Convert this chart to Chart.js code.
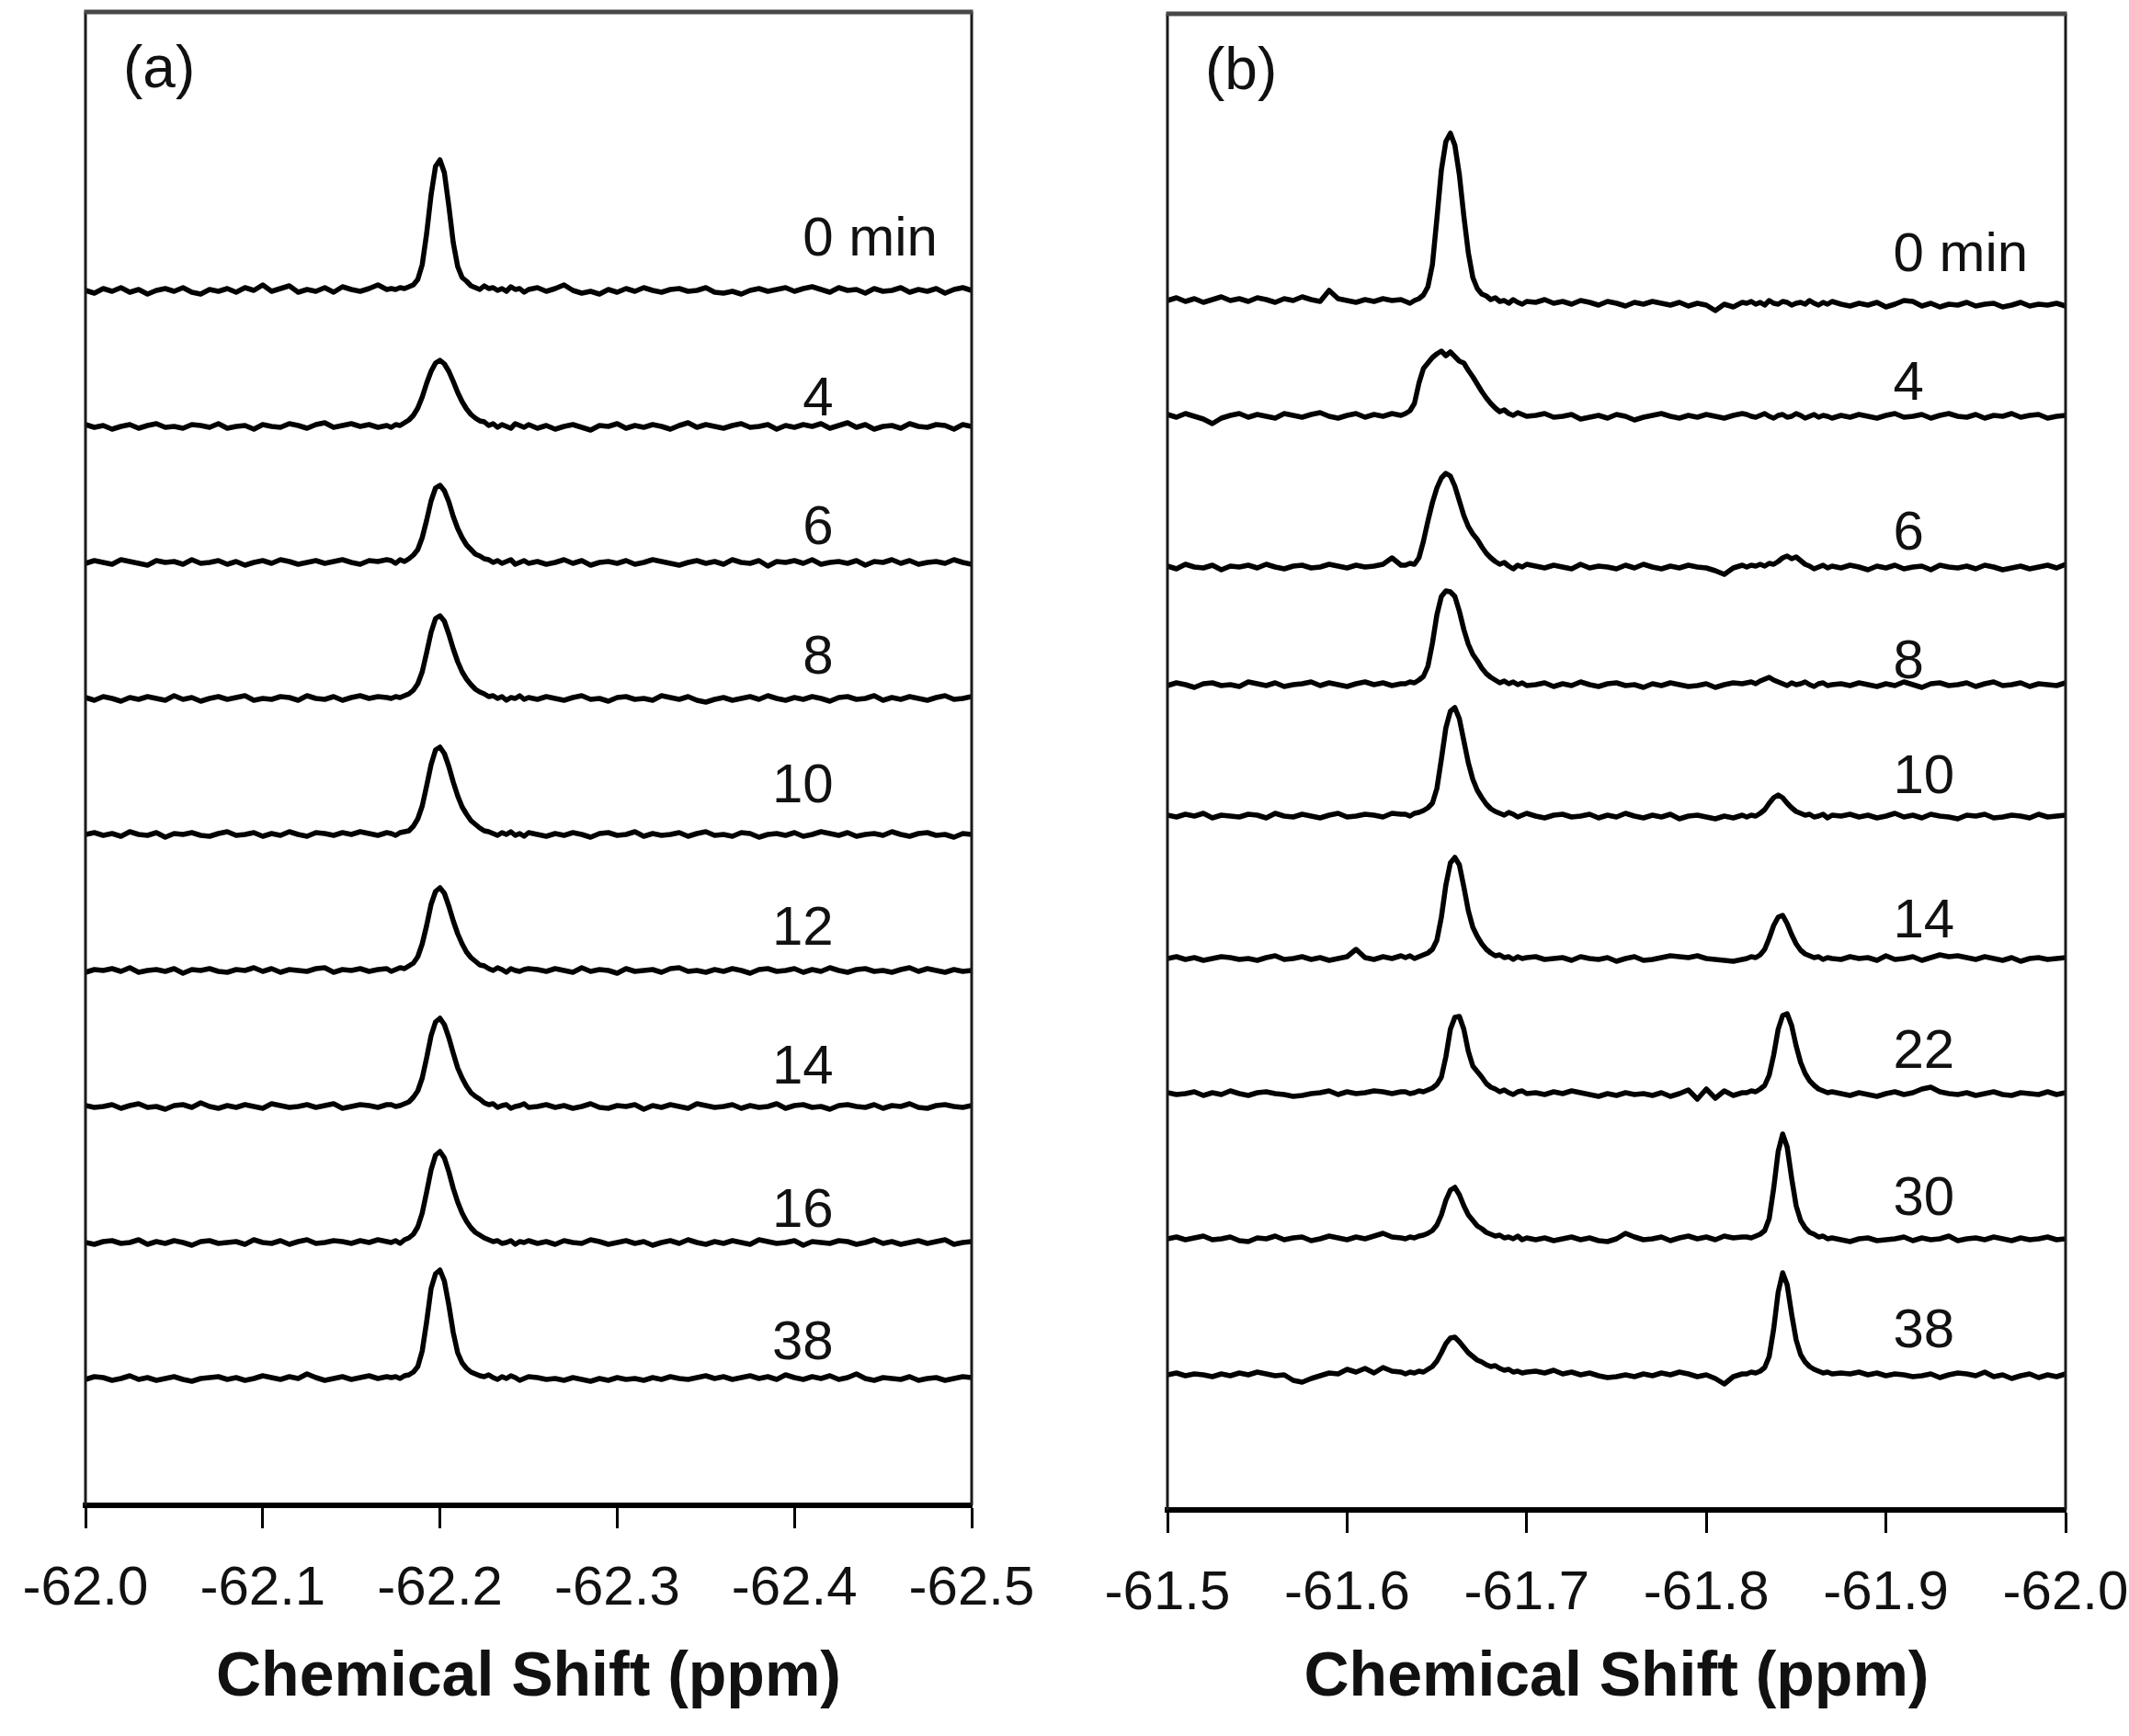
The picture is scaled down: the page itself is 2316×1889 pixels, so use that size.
<!DOCTYPE html>
<html>
<head>
<meta charset="utf-8">
<script src="https://cdn.jsdelivr.net/npm/chart.js@4.4.1/dist/chart.umd.min.js"></script>
<style>
  html, body { margin: 0; padding: 0; background: #fff; }
  body { width: 2316px; height: 1889px; position: relative; overflow: hidden; }
  .panel { position: absolute; top: 0; height: 1889px; }
  #wa { left: 0; width: 1160px; }
  #wb { left: 1160px; width: 1156px; }
</style>
</head>
<body>
<div class="panel" id="wa"><canvas id="ca"></canvas></div>
<div class="panel" id="wb"><canvas id="cb"></canvas></div>
<script>
// ---------------- Panel (a) ----------------
const ticksA = [-62.0, -62.1, -62.2, -62.3, -62.4, -62.5];
const labelsA = ['0', '4', '6', '8', '10', '12', '14', '16', '38'];
const stackA = [1322, 1174, 1026, 878, 730, 582, 434, 286, 138];      // baseline level of each trace
const labelYA = [1360, 1186, 1046, 905, 765, 610, 459, 303, 159];     // label baseline value
const labelXA = -62.422;

// sampling axis (ppm): 0.005 steps, 0.0025 steps around the peak
const gridA = [];
for (let i = 0; i <= 34; i++) gridA.push(-62 - i * 0.005);
for (let i = 1; i <= 32; i++) gridA.push(-62.17 - i * 0.0025);
for (let i = 1; i <= 50; i++) gridA.push(-62.25 - i * 0.005);

const a0 = [0,-3,2,-1,3,-2,1,-4,0,2,-1,3,-2,-4,1,-1,2,-2,3,0,6,-1,2,5,-2,1,-1,3,-2,4,1,-1,2,6,1,
  2,1,3,2,4,6,12,28,62,104,135,142,128,92,52,26,14,10,5,3,1,5,2,3,0,2,-1,4,1,2,-2,1,
  3,-1,2,6,0,-3,-1,-4,1,-2,2,-1,3,0,-2,1,2,-1,0,3,-2,-3,-1,-4,0,2,-1,1,3,-1,2,4,1,-2,3,0,1,-3,2,-1,0,3,-2,1,-1,2,-3,1,3,0];
const a4 = [2,-1,1,-3,0,2,-2,1,3,-1,0,-2,2,1,-1,3,-2,0,1,-3,2,0,-1,3,1,-2,2,4,-1,1,3,0,2,-1,1,
  -1,2,1,4,7,12,20,32,47,60,69,72,68,60,49,37,27,19,13,9,6,5,1,3,-1,2,0,-2,3,1,-1,2,
  -2,1,-3,0,2,-1,-4,1,0,3,-2,1,-1,2,0,-3,1,4,-1,2,0,-2,1,3,-1,0,2,-3,1,-1,2,0,3,-2,1,4,-1,2,-3,0,1,-2,3,0,-1,2,1,-3,2,0];
const a6 = [-1,2,0,-2,3,1,-1,-3,2,0,1,-2,3,-1,0,2,-2,1,-3,0,2,-1,3,1,-2,0,2,-1,1,3,0,-2,2,1,3,
  2,-1,3,1,4,8,14,27,46,67,81,84,78,66,50,37,27,19,14,9,7,4,3,0,2,-1,1,3,-2,0,2,-1,
  1,-2,0,3,-1,2,-3,0,1,-1,2,-2,0,3,1,-1,-3,0,2,-1,1,-2,3,0,-1,2,-4,1,0,2,-1,3,-2,0,1,-1,2,-3,1,0,3,-1,2,-2,0,1,-1,3,0,-2];
const a8 = [1,-2,2,0,-3,1,-1,2,0,-2,3,-1,1,-3,0,2,-1,1,3,-2,0,-1,2,1,-2,3,0,-1,2,-2,1,3,0,2,1,
  0,2,1,3,5,9,16,29,50,72,87,90,84,70,54,40,29,21,15,10,7,5,2,3,0,2,-2,1,0,3,-1,1,
  -1,2,0,-2,1,3,-1,0,-3,1,2,-1,0,-2,3,1,-1,2,-2,-4,-1,1,-2,0,2,-1,3,0,-2,1,-1,2,0,-3,1,2,-1,0,3,-2,1,-1,2,0,-2,1,3,-1,0,2];
const a10 = [0,2,-1,1,-2,3,0,-1,2,-3,1,0,2,-1,-2,1,3,-1,0,2,-2,1,-1,3,0,-2,2,1,-1,2,0,3,1,-1,2,
  1,-1,2,3,4,9,17,31,53,76,92,95,88,74,57,42,30,22,15,11,7,4,3,1,-1,2,0,3,-1,1,-2,2,
  0,-2,1,-1,2,0,-3,1,2,-1,0,3,-2,1,-1,0,2,-2,1,3,-1,0,-2,2,1,-3,0,1,-1,2,-2,0,3,1,-1,2,-2,0,1,-1,3,0,-2,1,2,-1,0,-3,1,0];
const a12 = [-2,1,0,2,-1,3,-2,0,1,-1,2,-3,1,0,2,-1,-2,1,0,3,-1,2,-2,1,0,-1,2,3,-2,1,0,2,-1,1,2,
  -1,1,3,2,5,8,15,29,49,72,86,90,84,70,54,40,29,20,14,10,6,5,2,0,3,1,-2,2,0,-1,1,2,
  1,-1,2,0,-2,3,-1,1,0,-3,2,-1,0,1,-2,2,3,-1,0,-2,1,-1,2,0,-3,1,2,-1,0,2,-2,1,-1,3,0,-2,1,2,-1,0,-2,1,3,-1,2,0,-2,1,-1,0];
const a14 = [1,-1,0,2,-2,1,3,-1,0,-3,1,2,-1,4,0,-2,1,-1,2,0,-2,3,1,-1,0,2,-1,1,3,-2,0,2,1,-1,2,
  2,0,1,3,5,10,17,31,53,77,92,96,89,75,58,42,31,22,15,11,8,4,2,3,-1,1,2,-2,0,1,3,-1,
  0,2,-1,1,-2,0,3,-1,-2,1,0,2,-3,1,-1,2,0,-2,3,1,-1,0,2,-2,1,-1,0,3,-2,1,2,-1,0,-3,1,2,0,-1,2,-2,1,0,3,-1,-2,1,2,0,-1,1];
const a16 = [0,-2,1,2,-1,0,3,-2,1,-1,2,0,-3,1,2,-1,0,1,-2,3,0,-1,2,-2,1,3,-1,0,2,1,-1,2,0,3,1,
  0,2,-1,3,5,9,17,32,55,79,95,99,92,77,59,44,32,23,16,11,8,5,3,1,2,-1,0,2,-2,1,0,2,
  -1,1,-2,2,0,-1,3,1,-2,0,2,-1,1,-3,0,2,-1,3,0,-2,1,-1,2,0,-2,3,1,-1,0,2,-3,1,0,-1,2,1,-2,0,3,-1,1,-2,0,2,-1,1,3,-2,0,1];
const a38 = [-1,2,1,-2,0,3,-1,1,-2,0,2,-1,-3,0,1,2,-1,1,-2,0,3,1,-1,2,0,5,1,-2,0,2,-1,1,3,0,2,
  1,2,0,3,4,7,13,30,62,98,114,118,106,80,50,28,17,11,7,5,3,2,4,1,-1,2,0,3,1,-2,0,2,
  1,-1,0,-2,1,-1,-3,0,-2,1,-1,0,-2,1,-1,2,0,-1,1,3,0,2,-1,1,3,0,2,-1,4,1,-1,2,0,3,-1,1,5,0,-2,1,0,-1,2,-2,0,1,-2,0,2,1];
const tracesA = [a0, a4, a6, a8, a10, a12, a14, a16, a38];

// ---------------- Panel (b) ----------------
const ticksB = [-61.5, -61.6, -61.7, -61.8, -61.9, -62.0];
const labelsB = ['0', '4', '6', '8', '10', '14', '22', '30', '38'];
const stackB = [1313, 1190, 1026, 898, 755, 600, 453, 295, 147];
const labelYB = [1348, 1208, 1045, 905, 780, 623, 481, 321, 177];
const labelXB = -61.904;

const gridB = [];
for (let i = 0; i <= 26; i++) gridB.push(-61.5 - i * 0.005);
for (let i = 1; i <= 28; i++) gridB.push(-61.63 - i * 0.0025);
for (let i = 1; i <= 24; i++) gridB.push(-61.70 - i * 0.005);
for (let i = 1; i <= 20; i++) gridB.push(-61.82 - i * 0.0025);
for (let i = 1; i <= 26; i++) gridB.push(-61.87 - i * 0.005);

const b0 = [3,6,2,5,1,4,7,3,5,2,6,4,1,5,3,7,4,2,14,5,3,1,4,2,5,3,4,
  2,0,3,5,9,18,42,92,145,176,185,172,140,95,55,28,16,10,8,4,6,2,3,0,4,1,-1,2,
  1,4,0,2,-1,3,1,-2,2,0,-3,1,-1,2,0,-2,1,-3,0,-2,-8,-1,-4,1,
  0,2,-1,1,-2,3,0,-1,2,1,-2,0,1,-1,3,0,-2,1,-1,2,
  -1,-3,0,-2,1,-4,-1,3,2,-3,0,-4,-1,-2,1,-3,-1,0,-4,-2,1,-3,-1,-2,0,-3];
const b4 = [2,-1,3,0,-3,-8,-2,1,3,-1,2,0,-2,3,1,-1,2,4,0,-2,1,3,-1,2,0,3,1,
  3,6,14,36,52,58,64,68,71,66,70,65,60,58,50,43,35,27,20,14,9,5,7,3,1,4,2,0,
  1,3,-1,0,2,-3,-1,1,-2,2,0,-4,-1,1,3,0,-2,1,-1,2,0,-2,1,3,
  2,0,-1,1,3,0,-2,1,2,-1,0,3,1,-2,0,2,-1,1,0,-2,
  1,-1,2,0,-2,1,3,-1,0,2,-2,1,3,0,-1,2,-2,1,0,3,-1,1,2,-2,0,1];
const b6 = [1,-2,3,0,-1,2,-3,1,0,2,-1,3,0,-2,1,2,-1,0,3,1,-1,2,0,1,3,10,2,
  2,4,3,10,28,50,70,86,97,102,99,88,72,56,44,36,30,22,15,10,6,3,5,1,-2,2,0,3,
  1,-1,2,0,-2,3,-1,1,0,-2,2,-1,3,0,-2,1,-1,2,0,-1,-4,-8,-1,2,
  0,2,1,3,1,4,3,6,10,12,9,11,7,3,1,-2,0,2,-1,1,
  -1,2,0,-3,1,-1,2,-2,0,1,-3,2,0,-1,1,-2,2,0,-3,-1,1,-2,0,2,-1,3];
const b8 = [-1,2,0,-3,1,2,-1,0,-2,3,1,-1,2,-2,0,1,3,-1,2,0,-2,1,3,0,2,-1,1,
  1,3,2,5,9,20,45,76,96,102,101,96,80,60,44,33,26,18,12,8,5,2,4,1,3,0,2,-1,
  0,2,-2,1,-1,3,0,-2,1,2,-1,0,-3,1,-1,2,0,-2,-1,1,-3,0,2,1,
  2,3,1,4,6,8,5,3,1,-1,2,0,1,3,0,-2,1,2,-1,0,
  1,-1,2,0,-2,1,-1,3,0,-3,1,2,-1,0,2,-2,1,3,-1,0,2,-2,1,0,-1,2];
const b10 = [1,-1,2,0,3,-2,1,0,-1,2,1,-2,3,0,-1,2,0,-2,1,3,-1,0,2,1,-1,3,2,
  2,0,3,4,6,9,14,30,62,96,114,118,106,82,58,40,28,20,13,8,5,3,1,4,2,-1,1,3,
  0,-2,1,2,-1,0,2,-2,1,-1,3,0,-2,1,-1,2,-3,0,1,-1,-3,0,-2,1,
  -1,1,0,3,7,14,20,23,20,14,9,5,3,1,2,-1,0,2,-2,1,
  0,2,-1,1,-2,0,3,-1,1,-2,2,0,-1,-3,1,0,2,-2,-1,1,0,-2,2,-1,0,1];
const b14 = [0,2,-1,1,-2,0,2,1,-1,0,-2,1,3,-1,0,2,-1,1,-2,0,2,10,1,-1,2,0,3,
  1,3,0,2,4,6,10,20,45,80,104,110,102,78,52,34,24,16,10,6,3,4,1,2,-1,2,0,1,
  2,-1,0,1,-2,2,0,-1,1,-3,0,2,-2,-1,1,3,2,1,3,0,-1,-2,-3,-1,
  0,2,1,4,10,22,36,45,47,38,26,16,9,5,3,1,2,-1,1,0,
  -1,2,0,1,-2,3,-1,0,2,-2,1,4,2,3,1,-1,2,0,-2,1,-3,0,1,-1,0,1];
const b22 = [1,-1,0,2,-2,1,-1,3,0,-2,1,2,0,-1,-3,-2,0,1,3,-1,2,0,1,3,2,0,2,
  2,0,1,3,2,4,6,10,18,40,70,83,84,70,46,30,24,18,11,7,5,2,4,1,-1,2,3,0,
  1,-1,2,0,3,1,-1,-3,0,-2,1,-1,0,-2,1,-3,0,4,-6,5,-5,3,-2,1,
  1,3,2,5,9,20,42,70,85,87,74,52,34,22,14,9,5,3,1,2,
  0,-2,1,-1,-3,0,2,-1,1,5,7,2,0,-1,1,-2,0,2,-1,-2,1,0,-1,2,-1,1];
const b30 = [0,2,-1,1,3,-1,0,2,-2,-3,1,0,3,-1,1,2,-2,0,3,1,-1,2,0,3,6,2,1,
  0,2,1,3,4,6,9,15,26,42,53,56,48,36,26,20,14,11,7,5,3,4,1,2,0,3,-1,1,
  -1,1,-2,0,2,-1,1,-2,-3,0,6,2,-1,0,2,-2,1,3,0,2,-1,3,1,2,
  2,1,3,5,9,22,55,95,114,100,66,36,20,12,7,5,2,3,0,1,
  -1,-3,0,1,-2,-1,0,2,-2,1,-1,0,3,-2,0,1,-1,2,0,-2,1,-1,0,2,-1,0];
const b38 = [0,2,-1,1,0,-2,1,-1,2,0,3,1,-1,0,-6,-8,-4,-1,2,1,6,3,7,2,8,4,3,
  1,3,2,4,3,6,9,15,24,34,40,41,36,30,24,20,16,14,11,9,10,7,5,6,3,4,2,3,
  4,2,5,1,3,0,2,-1,-3,-2,0,-2,1,-1,2,0,3,1,-2,0,-4,-10,-2,1,
  1,3,2,4,8,20,50,90,111,98,66,38,22,14,9,6,4,2,3,1,
  2,1,3,0,2,-1,1,0,-2,-1,1,-3,0,2,1,-1,3,-2,0,-4,-1,1,-3,0,-2,1];
const tracesB = [b0, b4, b6, b8, b10, b14, b22, b30, b38];

// ---------------- drawing ----------------
const FONT = "'Liberation Sans', Arial, Helvetica, sans-serif";

function makeSets(grid, traces, stack) {
  return traces.map((vals, i) => ({
    data: vals.map((v, j) => ({ x: grid[j], y: stack[i] + v })),
    borderColor: '#000',
    borderWidth: 5.5,
    pointRadius: 0,
    tension: 0,
    fill: false,
    borderJoinStyle: 'round',
    borderCapStyle: 'round'
  }));
}

function framePlugin(tag, labels, labelX, labelY, align) {
  return {
    id: 'frame' + tag,
    afterDatasetsDraw(chart) {
      const { ctx, chartArea: a, scales } = chart;
      ctx.save();
      ctx.strokeStyle = '#1a1a1a';
      ctx.lineWidth = 3;
      ctx.beginPath();
      ctx.moveTo(a.left, a.bottom); ctx.lineTo(a.left, a.top);
      ctx.moveTo(a.right, a.bottom); ctx.lineTo(a.right, a.top);
      ctx.stroke();
      ctx.strokeStyle = '#484848';
      ctx.lineWidth = 5;
      ctx.beginPath();
      ctx.moveTo(a.left - 1.5, a.top); ctx.lineTo(a.right + 1.5, a.top);
      ctx.stroke();

      ctx.fillStyle = '#111';
      ctx.textBaseline = 'alphabetic';
      ctx.font = '64px ' + FONT;
      ctx.textAlign = 'left';
      ctx.fillText('(' + tag + ')', a.left + 41, a.top + 82);

      ctx.font = '60px ' + FONT;
      const px = scales.x.getPixelForValue(labelX);
      labels.forEach((t, i) => {
        const py = scales.y.getPixelForValue(labelY[i]);
        ctx.textAlign = align;
        ctx.fillText(t, px, py);
        if (i === 0) {
          const w = align === 'right' ? 0 : ctx.measureText(t).width;
          ctx.textAlign = 'left';
          ctx.fillText(' min', px + w, py);
        }
      });
      ctx.restore();
    }
  };
}

function makeChart(canvasId, cfg) {
  return new Chart(document.getElementById(canvasId), {
    type: 'line',
    data: { datasets: makeSets(cfg.grid, cfg.traces, cfg.stack) },
    options: {
      responsive: true,
      maintainAspectRatio: false,
      animation: false,
      devicePixelRatio: 1,
      layout: { padding: cfg.pad },
      plugins: { legend: { display: false }, tooltip: { enabled: false }, title: { display: false } },
      scales: {
        x: {
          type: 'linear',
          min: cfg.min, max: cfg.max,
          reverse: true,
          afterBuildTicks: (s) => { s.ticks = cfg.ticks.map(v => ({ value: v })); },
          afterFit: (s) => { s.height = cfg.axisH; s.paddingLeft = 0; s.paddingRight = 0; },
          border: { display: true, color: '#000', width: 6 },
          grid: { display: true, drawOnChartArea: false, drawTicks: true, tickLength: 25, tickWidth: 3, tickColor: '#000' },
          ticks: {
            autoSkip: false, maxRotation: 0, minRotation: 0, padding: 30,
            color: '#111',
            font: { family: FONT, size: 60 },
            callback: (v) => Number(v).toFixed(1)
          },
          title: {
            display: true,
            text: 'Chemical Shift (ppm)',
            color: '#111',
            font: { family: FONT, size: 68, weight: 'bold' },
            padding: { top: 0, bottom: 22 }
          }
        },
        y: { type: 'linear', display: false, min: 0, max: cfg.ymax }
      }
    },
    plugins: [framePlugin(cfg.tag, cfg.labels, cfg.labelX, cfg.labelY, cfg.align)]
  });
}

makeChart('ca', {
  tag: 'a', grid: gridA, traces: tracesA, stack: stackA,
  labels: labelsA, labelX: labelXA, labelY: labelYA, align: 'right',
  min: -62.5, max: -62.0, ticks: ticksA, ymax: 1625,
  pad: { left: 93, right: 103, top: 13, bottom: 0 }, axisH: 1889 - 1638
});
makeChart('cb', {
  tag: 'b', grid: gridB, traces: tracesB, stack: stackB,
  labels: labelsB, labelX: labelXB, labelY: labelYB, align: 'left',
  min: -62.0, max: -61.5, ticks: ticksB, ymax: 1628,
  pad: { left: 110, right: 69, top: 15, bottom: 0 }, axisH: 1889 - 1643
});
</script>
</body>
</html>
